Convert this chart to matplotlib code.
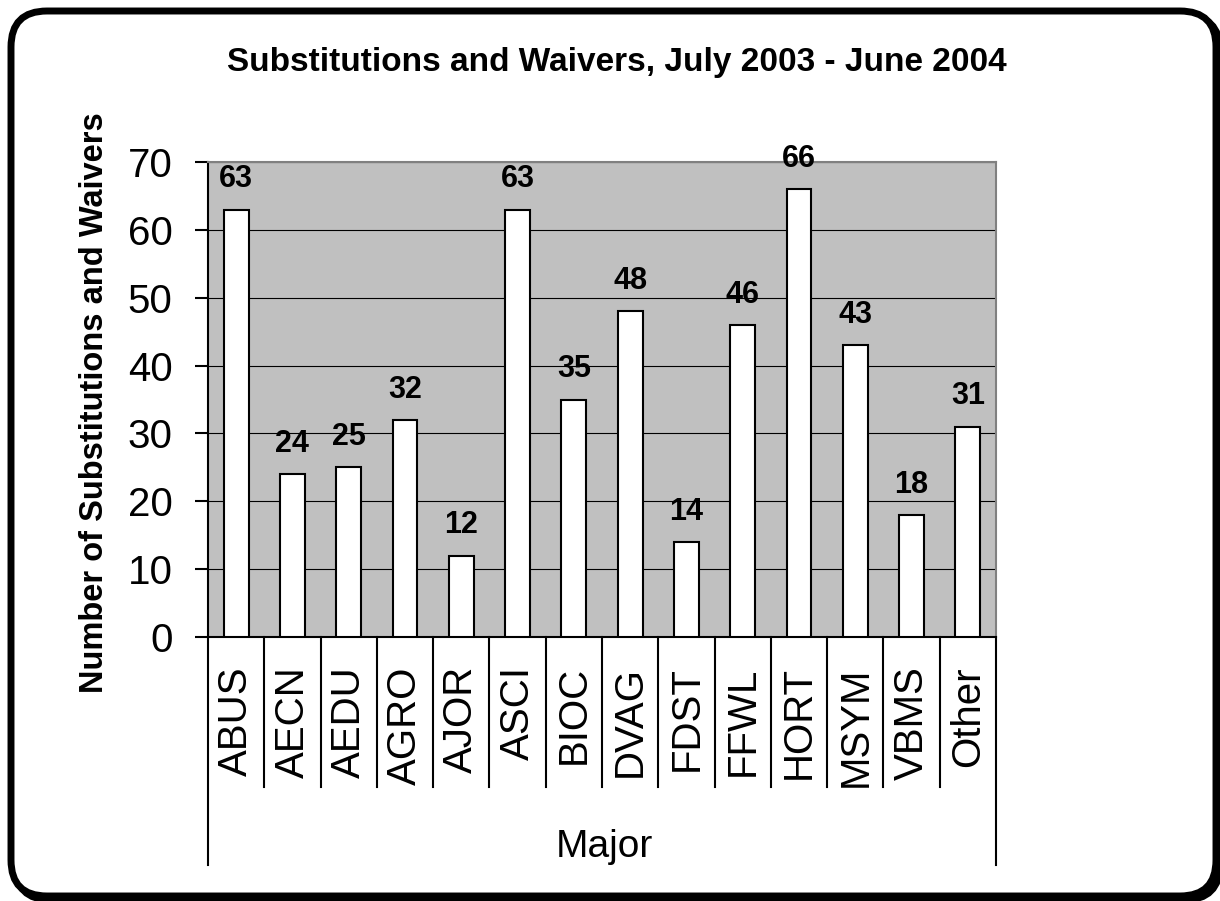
import matplotlib
matplotlib.use("Agg")
import matplotlib.pyplot as plt
from matplotlib.patches import FancyBboxPatch
import numpy as np

plt.rcParams['font.family'] = ['Liberation Sans', 'DejaVu Sans']

# data
majors = ['ABUS', 'AECN', 'AEDU', 'AGRO', 'AJOR', 'ASCI', 'BIOC',
          'DVAG', 'FDST', 'FFWL', 'HORT', 'MSYM', 'VBMS', 'Other']
counts = [63, 24, 25, 32, 12, 63, 35, 48, 14, 46, 66, 43, 18, 31]
y_ticks = [0, 10, 20, 30, 40, 50, 60, 70]

title = 'Substitutions and Waivers, July 2003 - June 2004'
y_title = 'Number of Substitutions and Waivers'
x_title = 'Major'

W, H = 1220, 901
fig = plt.figure(figsize=(W / 100, H / 100), dpi=100)

# background layer in pixel units (rounded frame + free texts)
bg = fig.add_axes([0, 0, 1, 1], zorder=0)
bg.set_xlim(0, W)
bg.set_ylim(H, 0)
bg.axis('off')
shadow = FancyBboxPatch((15, 15), 1216 - 11, 896 - 11,
                        boxstyle='round,pad=0,rounding_size=36',
                        facecolor='black', edgecolor='black', linewidth=5)
frame = FancyBboxPatch((11, 11), 1216 - 11, 896 - 11,
                       boxstyle='round,pad=0,rounding_size=36',
                       facecolor='white', edgecolor='black', linewidth=5)
bg.add_patch(shadow)
bg.add_patch(frame)

bg.text(617, 62, title, fontsize=24, fontweight='bold', ha='center', va='center')
bg.text(95, 403, y_title, fontsize=23.5, fontweight='bold', rotation=90,
        ha='center', va='center')
bg.text(604, 857, x_title, fontsize=28, ha='center', va='baseline')

# plot area
ax = fig.add_axes([208 / W, 1 - 637 / H, 788 / W, 475 / H], zorder=1)
ax.set_facecolor('#c0c0c0')
x = np.arange(len(majors))
ax.bar(x, counts, width=0.44, color='white', edgecolor='black', linewidth=1.5, zorder=3)

for xi, v in zip(x, counts):
    ax.annotate(str(v), (xi, v), xytext=(0, 16), textcoords='offset points',
                ha='center', va='baseline', fontsize=22, fontweight='bold',
                annotation_clip=False, zorder=4)

ax.set_xlim(-0.5, len(majors) - 0.5)
ax.set_ylim(0, 70)
ax.set_yticks(y_ticks)
ax.yaxis.grid(True, color='black', linewidth=0.8)
ax.set_axisbelow(True)
ax.tick_params(axis='y', direction='out', length=9.5, width=1.5, pad=16,
               labelsize=29)
ax.set_xticks(x)
ax.set_xticklabels(majors, rotation=90, fontsize=29)
ax.tick_params(axis='x', length=0, pad=21)

for side in ['top', 'right']:
    ax.spines[side].set_color('#808080')
    ax.spines[side].set_linewidth(1.5)
for side in ['left', 'bottom']:
    ax.spines[side].set_color('black')
    ax.spines[side].set_linewidth(1.5)

# category separators below the axis
trans = ax.get_xaxis_transform()
for i in range(len(majors) + 1):
    depth = -0.48 if i in (0, len(majors)) else -0.316
    ax.plot([i - 0.5, i - 0.5], [0, depth], color='black', linewidth=1.5,
            transform=trans, clip_on=False)

fig.savefig('out.png', dpi=100)
